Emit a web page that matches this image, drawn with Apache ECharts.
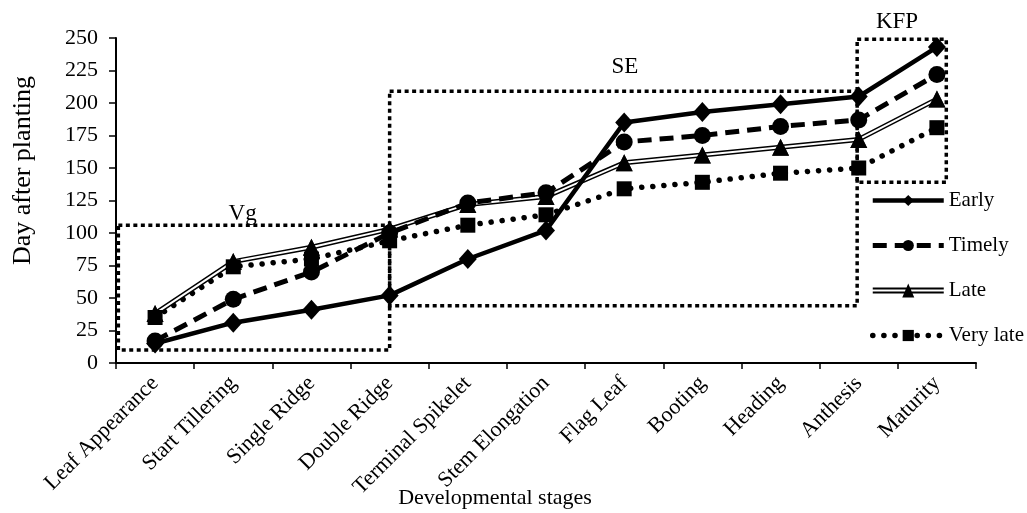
<!DOCTYPE html>
<html>
<head>
<meta charset="utf-8">
<title>Developmental stages</title>
<script src="https://cdn.jsdelivr.net/npm/echarts@6/dist/echarts.min.js"></script>
<style>
html,body{margin:0;padding:0;background:#fff;}
#main{width:1027px;height:513px;}
</style>
</head>
<body>
<div id="main"></div>
<script>
// stages on the x axis
var stages = ['Leaf Appearance','Start Tillering','Single Ridge','Double Ridge','Terminal Spikelet',
	'Stem Elongation','Flag Leaf','Booting','Heading','Anthesis','Maturity'];
// days after planting
var early    = [15, 31, 41, 52, 80, 102, 185, 193, 199, 205, 243];
var timely   = [17, 49, 70, 100, 123, 131, 170, 175, 182, 187, 222];
var late     = [38, 78, 89, 103, 122, 128, 154, 160, 166, 172, 203];
var veryLate = [35, 74, 80, 94, 106, 114, 134, 139, 146, 150, 181];
// y ticks
var yMin = 0, yMax = 250, yStep = 25;
// dotted phase boxes (x in category units, 0 = left edge of first stage)
var boxNames = ['Vg', 'SE', 'KFP'];
var boxX0 = [0.03, 3.5, 9.48];
var boxX1 = [3.5, 9.48, 10.62];
var boxY0 = [10, 44, 139];
var boxY1 = [106, 209, 249];
var boxLabelX = [1.62, 6.51, 9.99];
var boxLabelY = [115, 228, 262];

var font = '"Liberation Serif", "Times New Roman", serif';
var myChart = echarts.init(document.getElementById('main'));

var boxData = [];
for (var i = 0; i < boxNames.length; i++) {
	boxData.push([boxX0[i], boxY0[i], boxX1[i], boxY1[i], boxLabelX[i], boxLabelY[i]]);
}

// legend icon for the double line (all parts clockwise so nothing is cut out)
var lateIcon = 'path://M0,4L71,4L71,6L0,6Z M0,8L71,8L71,10L0,10Z M35.5,0L41.5,14L29.5,14Z';

var option = {
	backgroundColor: '#fff',
	animation: false,
	grid: {left: 116, right: 51, top: 38, bottom: 150, containLabel: false, outerBoundsMode: 'none'},
	legend: {
		orient: 'vertical',
		left: 865,
		top: 185,
		itemWidth: 71,
		itemHeight: 14,
		itemGap: 24,
		lineStyle: {width: 'inherit'},
		textStyle: {fontFamily: font, fontSize: 21, color: '#000'},
		data: ['Early', 'Timely', {name: 'Late', icon: lateIcon}, 'Very late']
	},
	xAxis: [{
		type: 'category',
		data: stages,
		boundaryGap: true,
		axisLine: {lineStyle: {color: '#000', width: 2}},
		axisTick: {show: true, length: 6, lineStyle: {color: '#000', width: 1.5}},
		axisLabel: {rotate: 45, interval: 0, margin: 17, fontFamily: font, fontSize: 22, color: '#000'},
		name: 'Developmental stages',
		nameLocation: 'middle',
		nameGap: 124,
		nameMoveOverlap: false,
		nameTextStyle: {fontFamily: font, fontSize: 22, color: '#000', padding: [0, 102, 0, 0]}
	}, {
		type: 'value',
		min: 0,
		max: stages.length,
		show: false
	}],
	yAxis: {
		type: 'value',
		min: yMin,
		max: yMax,
		interval: yStep,
		splitLine: {show: false},
		axisLine: {show: true, lineStyle: {color: '#000', width: 2}},
		axisTick: {show: true, length: 7, lineStyle: {color: '#000', width: 1.5}},
		axisLabel: {margin: 18, fontFamily: font, fontSize: 22, color: '#000'},
		name: 'Day after planting',
		nameLocation: 'middle',
		nameGap: 80,
		nameMoveOverlap: false,
		nameTextStyle: {fontFamily: font, fontSize: 26, color: '#000', padding: [0, 0, 0, 60]}
	},
	series: [
		{
			type: 'custom',
			name: 'boxes',
			xAxisIndex: 1,
			silent: true,
			z: 1,
			data: boxData,
			encode: {x: [0, 2], y: [1, 3]},
			renderItem: function (params, api) {
				var p0 = api.coord([api.value(0), api.value(1)]);
				var p1 = api.coord([api.value(2), api.value(3)]);
				var pl = api.coord([api.value(4), api.value(5)]);
				return {
					type: 'group',
					children: [{
						type: 'rect',
						shape: {x: p0[0], y: p1[1], width: p1[0] - p0[0], height: p0[1] - p1[1]},
						style: {fill: 'none', stroke: '#000', lineWidth: 3.5, lineDash: [4, 3.5]}
					}, {
						type: 'text',
						style: {
							text: boxNames[params.dataIndex],
							x: pl[0], y: pl[1],
							align: 'center', verticalAlign: 'middle',
							fontFamily: font, fontSize: 23, fill: '#000'
						}
					}]
				};
			}
		},
		{
			name: 'Very late',
			type: 'line',
			data: veryLate,
			z: 2,
			color: '#000',
			symbol: 'rect',
			symbolSize: 15,
			lineStyle: {color: '#000', width: 5.5, type: [0.1, 11], cap: 'round'},
			itemStyle: {color: '#000'}
		},
		{
			name: 'Late',
			type: 'line',
			data: late,
			z: 2,
			color: '#000',
			symbol: 'triangle',
			symbolSize: 17,
			lineStyle: {color: '#000', width: 5},
			itemStyle: {color: '#000'}
		},
		{
			name: 'Late inner',
			type: 'line',
			data: late,
			z: 2,
			silent: true,
			symbol: 'none',
			lineStyle: {color: '#fff', width: 2}
		},
		{
			name: 'Late marks',
			type: 'scatter',
			data: late,
			z: 3,
			silent: true,
			symbol: 'triangle',
			symbolSize: 17,
			itemStyle: {color: '#000'}
		},
		{
			name: 'Timely',
			type: 'line',
			data: timely,
			z: 3,
			color: '#000',
			symbol: 'circle',
			symbolSize: 17,
			lineStyle: {color: '#000', width: 5, type: [14, 8]},
			itemStyle: {color: '#000'}
		},
		{
			name: 'Early',
			type: 'line',
			data: early,
			z: 4,
			color: '#000',
			symbol: 'diamond',
			symbolSize: [18, 20],
			lineStyle: {color: '#000', width: 4.5},
			itemStyle: {color: '#000'}
		}
	]
};
myChart.setOption(option);
</script>
</body>
</html>
